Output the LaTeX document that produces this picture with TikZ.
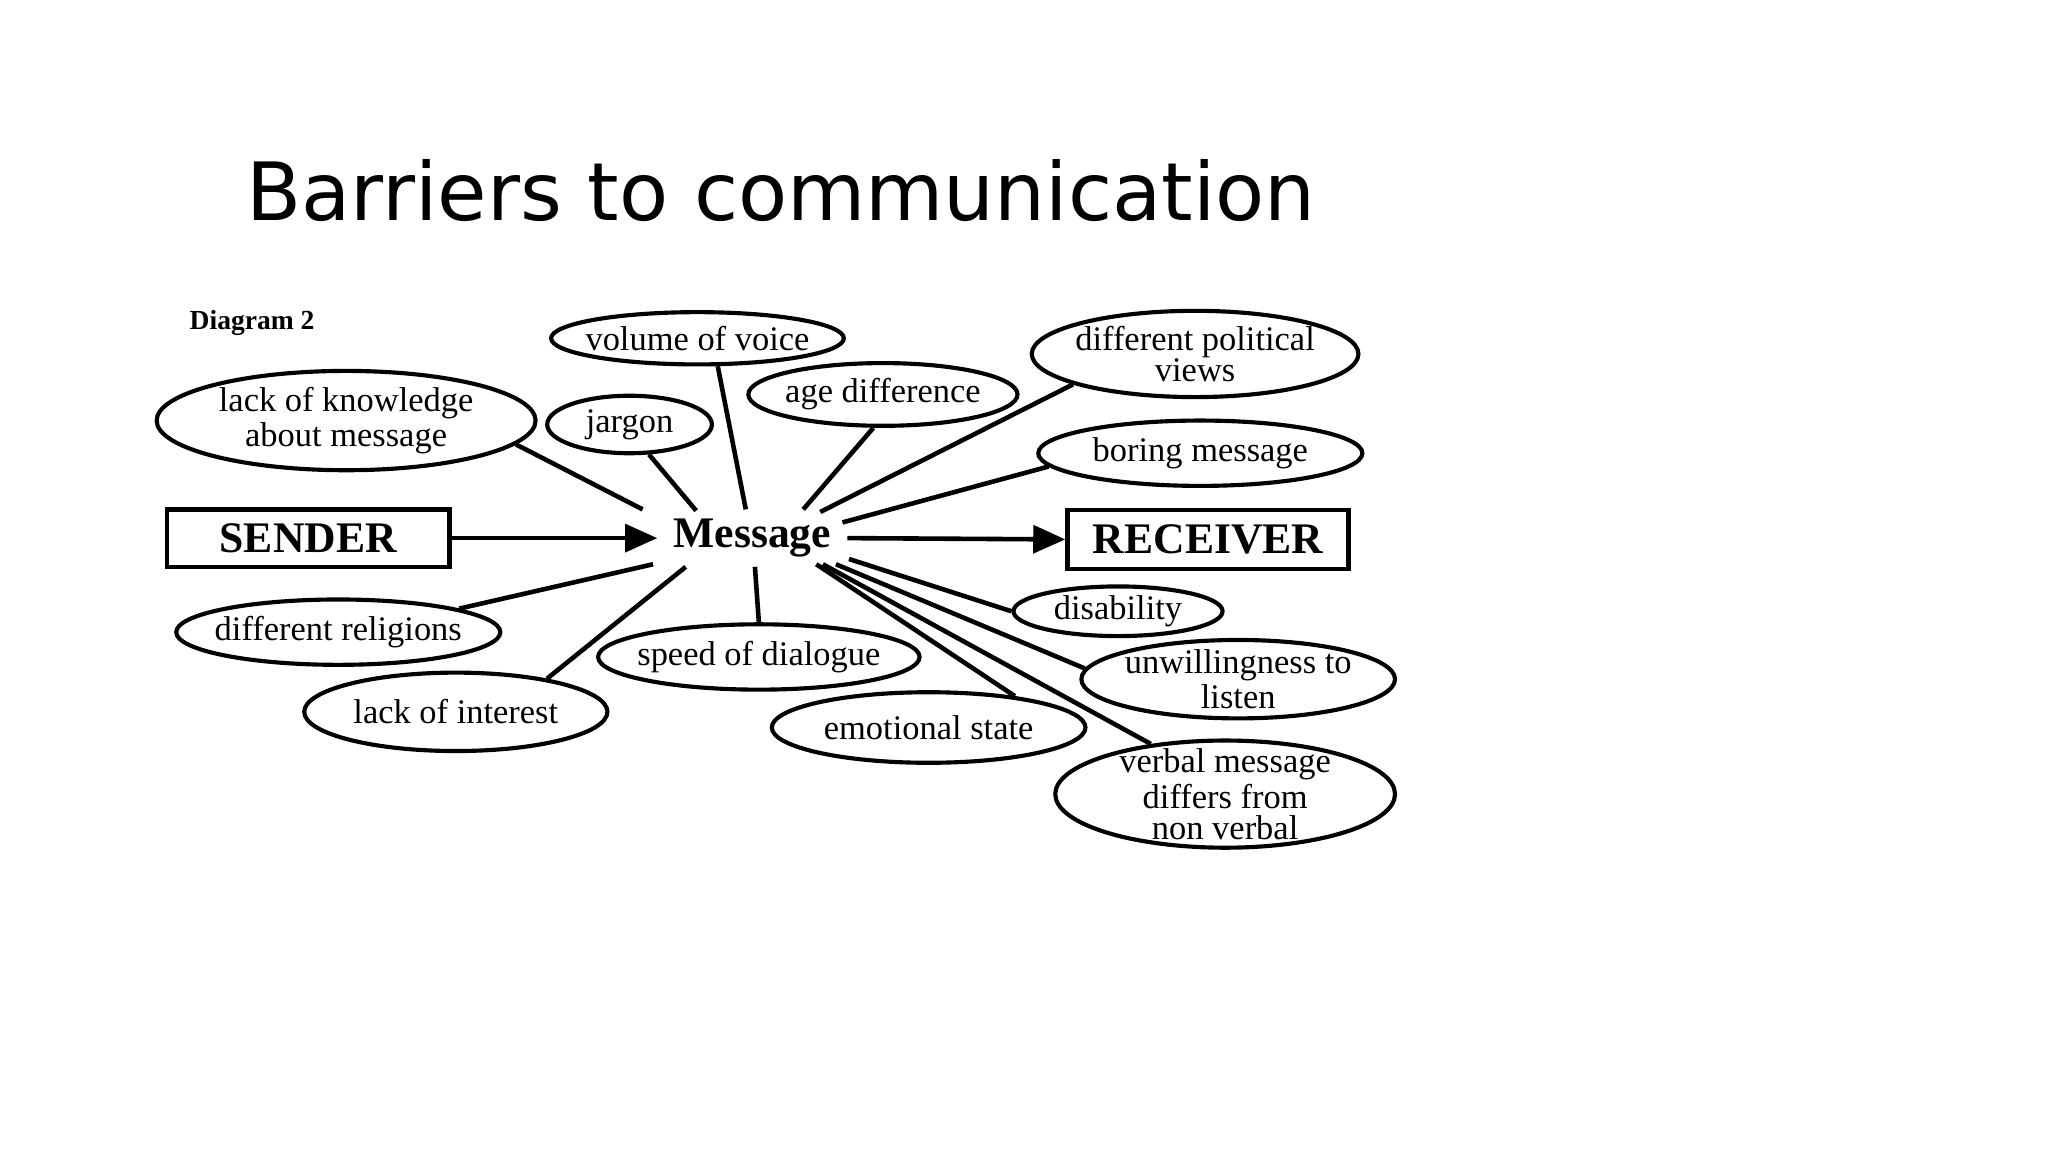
\documentclass[tikz,border=0pt]{standalone}
\usepackage{fontspec}
\setmainfont{Liberation Serif}
\newfontfamily\titlefont{DejaVu Sans}
\usetikzlibrary{shapes.geometric,arrows.meta}
\tikzset{
 bub/.style={ellipse,draw,line width=0.9pt,inner xsep=-6pt,inner ysep=-4pt,align=center,font=\fontsize{7.5}{6.6}\selectfont},
 box/.style={draw,line width=1pt,inner sep=0pt,font=\fontsize{9.5}{12}\selectfont\bfseries},
 link/.style={line width=1pt},
 arr/.style={line width=1pt,-{Triangle[length=7pt,width=6pt]}}
}
\begin{document}
\begin{tikzpicture}[x=0.01cm,y=-0.01cm]
\useasboundingbox (0,0) rectangle (1568,882);
\node[font=\titlefont\fontsize{17.5}{18}\selectfont] (title) at (598,146) {Barriers to communication};
\node[font=\fontsize{6}{7}\selectfont\bfseries] (d2) at (193,247) {Diagram 2};
\node[box,minimum width=2.16cm,minimum height=0.44cm] (sender) at (236,412) {SENDER};
\node[box,minimum width=2.15cm,minimum height=0.45cm] (receiver) at (925,413) {RECEIVER};
\node[font=\fontsize{9.5}{12}\selectfont\bfseries] (msg) at (576,412) {Message};
\node[bub,minimum width=2.24cm,minimum height=0.40cm] (vol) at (534,259) {volume of voice};
\node[bub,minimum width=2.90cm,minimum height=0.76cm] (know) at (265,322) {lack of knowledge\\about message};
\node[bub,minimum width=1.26cm,minimum height=0.44cm] (jar) at (482,325) {jargon};
\node[bub,minimum width=2.06cm,minimum height=0.48cm] (age) at (676,302) {age difference};
\node[bub,minimum width=2.50cm,minimum height=0.66cm] (pol) at (915,271) {different political\\views};
\node[bub,minimum width=2.48cm,minimum height=0.50cm] (bor) at (919,347) {boring message};
\node[bub,minimum width=2.48cm,minimum height=0.50cm] (rel) at (259,484) {different religions};
\node[bub,minimum width=2.32cm,minimum height=0.60cm] (int) at (349,545) {lack of interest};
\node[bub,minimum width=2.46cm,minimum height=0.50cm] (spd) at (581,503) {speed of dialogue};
\node[bub,minimum width=2.40cm,minimum height=0.54cm] (emo) at (711,557) {emotional state};
\node[bub,minimum width=1.60cm,minimum height=0.38cm] (dis) at (856,468) {disability};
\node[bub,minimum width=2.40cm,minimum height=0.60cm] (unw) at (948,520) {unwillingness to\\listen};
\node[bub,minimum width=2.60cm,minimum height=0.82cm] (ver) at (938,608) {verbal message\\differs from\\non verbal};
\coordinate (c1) at (492,390); \coordinate (c2) at (533,391); \coordinate (c3) at (571,390);
\coordinate (c4) at (615,390); \coordinate (c5) at (628,392); \coordinate (c6) at (645,400);
\coordinate (c7) at (500,432); \coordinate (c8) at (525,434); \coordinate (c9) at (578,434);
\coordinate (c10) at (625,432); \coordinate (c11) at (650,428); \coordinate (c12) at (640,432);
\coordinate (c13) at (630,432);
\draw[link] (c1) -- (know.-8); \draw[link] (c2) -- (jar.-57); \draw[link] (c3) -- (vol.-54);
\draw[link] (c4) -- (age.-106); \draw[link] (c5) -- (pol.194); \draw[link] (c6) -- (bor.185);
\draw[link] (c7) -- (rel.11); \draw[link] (c8) -- (int.20); \draw[link] (c9) -- (spd.north);
\draw[link] (c10) -- (emo.20); \draw[link] (c11) -- (dis.west); \draw[link] (c12) -- (unw.176);
\draw[link] (c13) -- (ver.146);
\draw[arr] (sender.east) -- (msg.west);
\draw[arr] (msg.east) -- (receiver.west);
\end{tikzpicture}
\end{document}
